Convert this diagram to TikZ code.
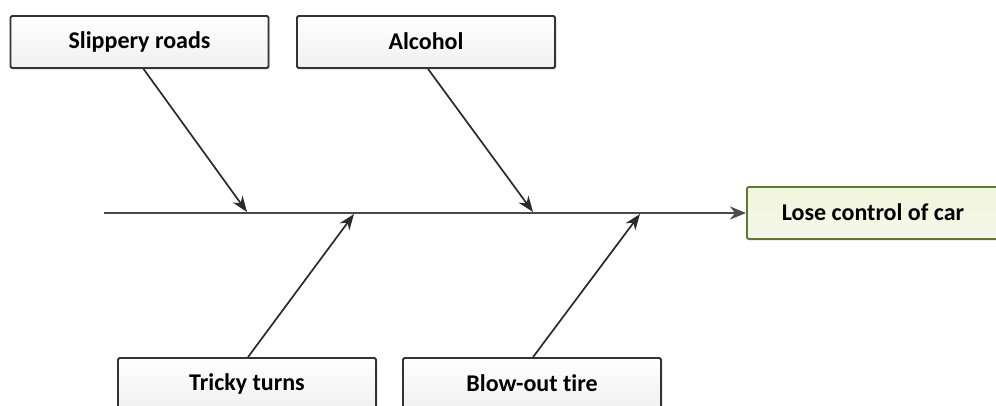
\documentclass[tikz,border=0pt]{standalone}
\usepackage{fontspec}
\setmainfont{Carlito}[Ligatures=NoCommon]
\usetikzlibrary{arrows.meta,shadows}
\definecolor{boxline}{HTML}{333333}
\definecolor{effectfill}{HTML}{F0F6DA}
\definecolor{effectline}{HTML}{5E7A32}
\definecolor{boneline}{HTML}{2A2A2A}
\tikzset{
  causebox/.style={draw=boxline, line width=1.8pt, rounded corners=1.5pt,
    top color=white, bottom color=black!6, minimum width=258pt, minimum height=52pt,
    inner sep=0pt, font=\fontsize{24}{28}\selectfont\bfseries, text=black,
    drop shadow={shadow xshift=1.5pt, shadow yshift=-1.5pt, opacity=0.25}},
  effectbox/.style={causebox, draw=effectline, top color=effectfill, bottom color=effectfill!85!olive!30},
  bone/.style={draw=boneline, line width=1.7pt, -{Stealth[length=16pt,width=12pt]}},
  spine/.style={draw=boneline!85, line width=2.6pt, -{Stealth[length=16pt,width=13pt]}}
}
\begin{document}
\begin{tikzpicture}[x=1pt,y=-1pt]
  \useasboundingbox (0,0) rectangle (996,405);
  \clip (0,0) rectangle (996,405);
  % cause boxes
  \node[causebox] (slip) at (139.5,42) {\raisebox{2pt}{Slippery roads}};
  \node[causebox] (alc)  at (426,42) {\raisebox{2pt}{Alcohol}};
  \node[causebox] (tricky) at (247,384) {\raisebox{2pt}{Tricky turns}};
  \node[causebox] (blow) at (532,384) {\raisebox{2pt}{Blow-out tire}};
  % effect box, running off the right edge
  \node[effectbox, minimum width=262pt, inner xsep=35pt, inner ysep=0pt,
        anchor=west] (lose) at (746,213)
        {\makebox[192pt][l]{\raisebox{2pt}{Lose control of car}}};
  % spine
  \coordinate (tail) at (104,213);
  \draw[spine] (tail) -- (lose.west);
  % bones meeting the spine
  \coordinate (j1) at (247,212);
  \coordinate (j2) at (533,212);
  \coordinate (j3) at (354,214);
  \coordinate (j4) at (640,214);
  \draw[bone] (slip.south) ++(4,0) -- (j1);
  \draw[bone] (alc.south) ++(2,0) -- (j2);
  \draw[bone] (tricky.north) ++(1,0) -- (j3);
  \draw[bone] (blow.north) ++(1,0) -- (j4);
\end{tikzpicture}
\end{document}
